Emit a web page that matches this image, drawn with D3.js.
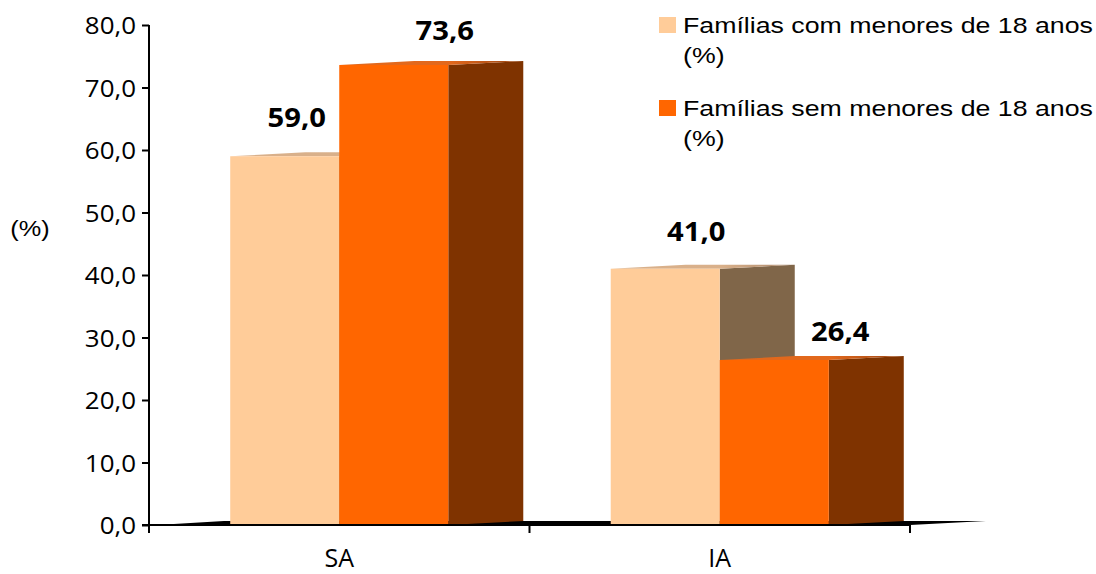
<!DOCTYPE html>
<html>
<head>
<meta charset="utf-8">
<script src="https://cdn.jsdelivr.net/npm/d3@7"></script>
<style>
  html, body { margin: 0; padding: 0; background: #fff; }
  svg { display: block; }
</style>
</head>
<body>
<svg id="chart" width="1096" height="574"></svg>
<script>
// Categories and series values (one value per category)
const categories = ["SA", "IA"];
const seriesNames = [
  "Famílias com menores de 18 anos (%)",
  "Famílias sem menores de 18 anos (%)"
];
const valuesCom = [59.0, 41.0];
const valuesSem = [73.6, 26.4];
const yTicks = [0, 10, 20, 30, 40, 50, 60, 70, 80];

// Styling
const colors = [
  { front: "#FFCC99", side: "#806649", topA: "#d9b08a", topB: "#a9876b" },
  { front: "#FF6600", side: "#7F3300", topA: "#e2681c", topB: "#9a4614" }
];
const depth = { dx: 75, dy: -4 };
// label placement relative to the front face centre / top
const labelDx = [[12, 31], [51, 66]];
const labelDy = [[-29, -28], [-25, -19]];

const svg = d3.select("#chart");
const ptBR = d3.formatLocale({ decimal: ",", thousands: ".", grouping: [3], currency: ["R$", ""] });
const fmt = ptBR.format(".1f");

const y = d3.scaleLinear().domain([0, 80]).range([525, 25]);
const x = d3.scaleBand().domain(categories).range([149, 910]).paddingInner(0).paddingOuter(0);
const xs = d3.scaleBand().domain([0, 1]).range([0, x.bandwidth()]).paddingInner(0).paddingOuter(0.745);

const seriesValues = [valuesCom, valuesSem];

// Gradients for the top faces
const defs = svg.append("defs");
colors.forEach((c, i) => {
  const g = defs.append("linearGradient").attr("id", "top" + i)
    .attr("x1", "0").attr("x2", "1").attr("y1", "0").attr("y2", "0");
  g.append("stop").attr("offset", "0").attr("stop-color", c.topA);
  g.append("stop").attr("offset", "0.6").attr("stop-color", c.topA);
  g.append("stop").attr("offset", "1").attr("stop-color", c.topB);
});

// Floor slab
const x0 = x.range()[0], x1 = x.range()[1];
svg.append("polygon")
  .attr("points", [[x0 + 8, y(0)], [x1, y(0)], [x1 + depth.dx + 1, y(0) + depth.dy], [x0 + depth.dx, y(0) + depth.dy]].map(p => p.join(",")).join(" "))
  .attr("fill", "#000");

// Bars (3D boxes), drawn per category, series in order
categories.forEach((cat, ci) => {
  seriesValues.forEach((vals, si) => {
    const v = vals[ci];
    const bx0 = x(cat) + xs(si);
    const bx1 = bx0 + xs.bandwidth();
    const yt = y(v), yb = y(0);
    const g = svg.append("g");
    // side face
    g.append("polygon")
      .attr("points", [[bx1, yt], [bx1 + depth.dx, yt + depth.dy], [bx1 + depth.dx, yb + depth.dy], [bx1, yb]].map(p => p.join(",")).join(" "))
      .attr("fill", colors[si].side);
    // top face
    g.append("polygon")
      .attr("points", [[bx0, yt], [bx1, yt], [bx1 + depth.dx, yt + depth.dy], [bx0 + depth.dx, yt + depth.dy]].map(p => p.join(",")).join(" "))
      .attr("fill", `url(#top${si})`);
    // front face
    g.append("rect")
      .attr("x", bx0).attr("y", yt)
      .attr("width", bx1 - bx0).attr("height", yb - yt)
      .attr("fill", colors[si].front);
  });
});

// Baseline line over floor front edge
svg.append("line")
  .attr("x1", 142).attr("x2", x1).attr("y1", y(0)).attr("y2", y(0))
  .attr("stroke", "#000").attr("stroke-width", 2);

// Y axis
const yAxis = d3.axisLeft(y).tickValues(yTicks).tickFormat(fmt).tickSize(7).tickPadding(5);
const yg = svg.append("g").attr("transform", `translate(${x0},0)`).call(yAxis);
yg.select(".domain").remove();
yg.selectAll(".tick line").attr("stroke", "#000").attr("stroke-width", 2);
yg.selectAll(".tick text")
  .attr("font-family", "'Open Sans', sans-serif").attr("font-size", 24).attr("fill", "#000")
  .attr("x", null).attr("dy", null)
  .attr("transform", "translate(-13,8.5) scale(1.08,1)");
svg.append("line")
  .attr("x1", x0).attr("x2", x0).attr("y1", y(80)).attr("y2", 533)
  .attr("stroke", "#000").attr("stroke-width", 2);

// Category ticks and labels
const xBoundaries = [x0, x(categories[1]), x1];
svg.selectAll(".xtick").data(xBoundaries).enter().append("line")
  .attr("x1", d => d).attr("x2", d => d).attr("y1", y(0)).attr("y2", 533)
  .attr("stroke", "#000").attr("stroke-width", 2);
svg.selectAll(".xlab").data(categories).enter().append("text")
  .attr("x", d => x(d) + x.bandwidth() / 2)
  .attr("y", 567)
  .attr("text-anchor", "middle")
  .attr("font-family", "'Open Sans', sans-serif").attr("font-size", 25).attr("fill", "#000")
  .text(d => d);

// Y axis title
svg.append("text")
  .attr("transform", "translate(30,236) scale(1.15,1)")
  .attr("text-anchor", "middle")
  .attr("font-family", "'Liberation Sans', Arial, sans-serif").attr("font-size", 22).attr("fill", "#000")
  .text("(%)");

// Value labels
categories.forEach((cat, ci) => {
  seriesValues.forEach((vals, si) => {
    const v = vals[ci];
    const cx = x(cat) + xs(si) + xs.bandwidth() / 2 + labelDx[si][ci];
    const by = y(v) + labelDy[si][ci];
    svg.append("text")
      .attr("transform", `translate(${cx},${by}) scale(1.08,1)`)
      .attr("text-anchor", "middle")
      .attr("font-family", "'Open Sans', sans-serif").attr("font-weight", "bold")
      .attr("font-size", 27).attr("fill", "#000")
      .text(fmt(v));
  });
});

// Legend
const legendRows = [
  ["Famílias com menores de 18 anos", "(%)"],
  ["Famílias sem menores de 18 anos", "(%)"]
];
legendRows.forEach((lines, i) => {
  const base = 33 + i * 83;
  svg.append("rect")
    .attr("x", 659).attr("y", base - 16).attr("width", 17).attr("height", 16)
    .attr("fill", colors[i].front);
  lines.forEach((t, li) => {
    svg.append("text")
      .attr("transform", `translate(683,${base + li * 30}) scale(1.215,1)`)
      .attr("font-family", "'Liberation Sans', Arial, sans-serif").attr("font-size", 22).attr("fill", "#000")
      .text(t);
  });
});
</script>
</body>
</html>
